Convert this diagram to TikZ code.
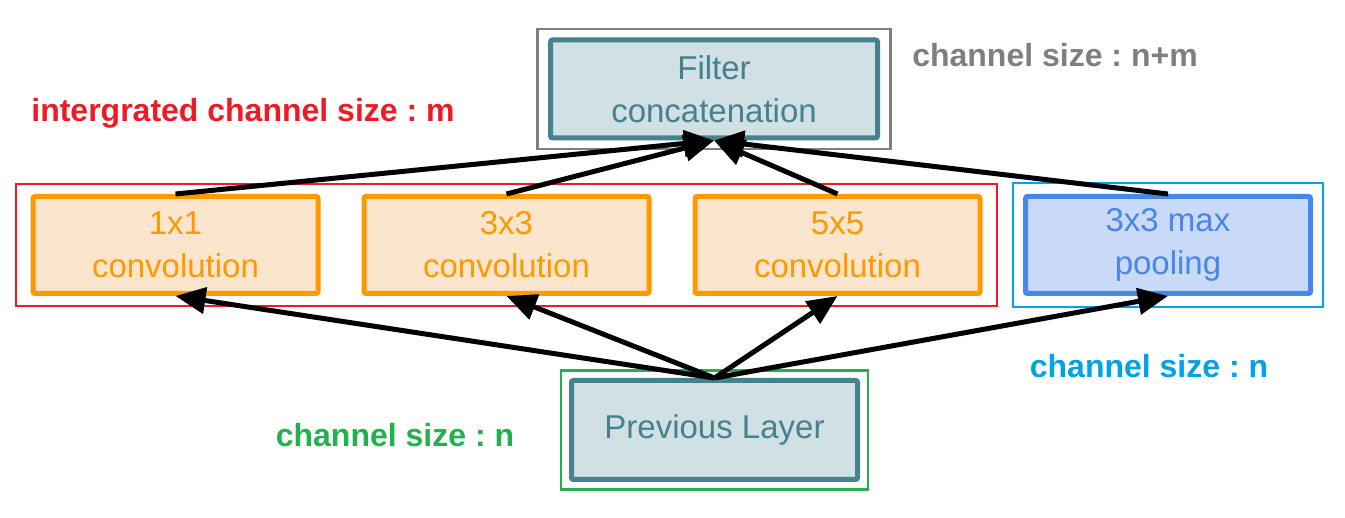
\documentclass[tikz,border=0pt]{standalone}
\usepackage{fontspec}
\setmainfont{Liberation Sans}
\usetikzlibrary{arrows.meta, fit}
\frenchspacing

\definecolor{tealline}{HTML}{45818E}
\definecolor{tealfill}{HTML}{D0E0E3}
\definecolor{orangeline}{HTML}{FF9900}
\definecolor{orangefill}{HTML}{FCE5CD}
\definecolor{blueline}{HTML}{4A86E8}
\definecolor{bluefill}{HTML}{C9DAF8}
\definecolor{markred}{HTML}{ED1C24}
\definecolor{markblue}{HTML}{00A2E8}
\definecolor{markgreen}{HTML}{22B14C}
\definecolor{markgray}{HTML}{7F7F7F}

\begin{document}
\begin{tikzpicture}[x = 1pt, y = -1pt]
    \tikzset{
        block/.style = {
            draw,
            line width = 5pt,
            rounded corners = 2pt,
            align = center,
            inner sep = 0pt,
            minimum width = 285pt,
            minimum height = 97pt,
            font = \fontsize{33}{43}\selectfont
        },
        layer/.style = {block, draw = tealline, fill = tealfill, text = tealline},
        conv/.style = {block, draw = orangeline, fill = orangefill, text = orangeline},
        pool/.style = {block, draw = blueline, fill = bluefill, text = blueline},
        outline/.style = {draw = #1, line width = 2.5pt, inner sep = 0pt},
        note/.style = {text = #1, anchor = base, inner sep = 0pt,
            font = \fontsize{32}{38}\selectfont\bfseries},
        link/.style = {line width = 5pt, -{Triangle[length = 30pt, width = 26pt]}}
    }

    \useasboundingbox (0, 0) rectangle (1345, 518);

    \def\rowy{245}

    \node[layer, minimum width = 327pt, minimum height = 98pt] (concat) at (714, 89) {Filter\\concatenation};
    \foreach \k/\x in {1/175.5, 3/506.5, 5/837.5}{
        \node[conv] (conv\k) at (\x, \rowy) {\k x\k\\convolution};
    }
    \node[pool] (pool) at (1168, \rowy) {3x3 max\\pooling};
    \node[layer, minimum width = 286pt, minimum height = 99pt] (prev) at (714.5, 430) {Previous Layer};

    \node[outline = markgray, inner xsep = 10.5pt, inner ysep = 8.5pt, fit = (concat)] (concatbox) {};
    \node[outline = markred, inner xsep = 14.5pt, inner ysep = 10pt, fit = (conv1) (conv5)] (convbox) {};
    \node[outline = markblue, inner xsep = 10pt, inner ysep = 11pt, fit = (pool)] (poolbox) {};
    \node[outline = markgreen, inner xsep = 8pt, inner ysep = 7.5pt, fit = (prev)] (prevbox) {};

    \foreach \n in {conv1, conv3, conv5, pool}{
        \draw[link] (prev.north) -- (\n.south);
        \draw[link] (\n.north) -- (concat.south);
    }

    \node[note = markgray] (outsize) at (1055, 67) {channel size : n+m};
    \node[note = markred] (convsize) at (243, 122) {intergrated channel size : m};
    \node[note = markblue] (poolsize) at (1149, 378) {channel size : n};
    \node[note = markgreen] (prevsize) at (395, 447) {channel size : n};

\end{tikzpicture}
\end{document}
